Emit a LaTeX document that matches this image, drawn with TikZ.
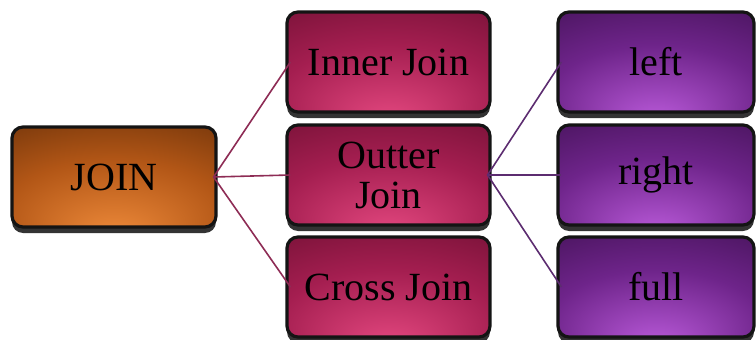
\documentclass[tikz,border=0pt]{standalone}
\usepackage{fontspec}
\setmainfont{Liberation Serif}
\usetikzlibrary{shadows}
\definecolor{orD}{HTML}{4E2204}
\definecolor{orM}{HTML}{B25616}
\definecolor{orL}{HTML}{EE8A3A}
\definecolor{pkD}{HTML}{5C0A28}
\definecolor{pkM}{HTML}{A41E50}
\definecolor{pkL}{HTML}{E44880}
\definecolor{puD}{HTML}{300A40}
\definecolor{puM}{HTML}{6E248A}
\definecolor{puL}{HTML}{BA5ADA}
\definecolor{lnA}{HTML}{8E2C55}
\definecolor{lnB}{HTML}{5C2C70}
\pgfdeclareradialshading[orD,orM,orL]{orshade}{\pgfpoint{0bp}{-30bp}}{color(0bp)=(orL); color(28bp)=(orM); color(62bp)=(orD); color(80bp)=(orD)}
\pgfdeclareradialshading[pkD,pkM,pkL]{pkshade}{\pgfpoint{0bp}{-30bp}}{color(0bp)=(pkL); color(28bp)=(pkM); color(62bp)=(pkD); color(80bp)=(pkD)}
\pgfdeclareradialshading[puD,puM,puL]{pushade}{\pgfpoint{0bp}{-30bp}}{color(0bp)=(puL); color(28bp)=(puM); color(62bp)=(puD); color(80bp)=(puD)}
\tikzset{
  btn/.style={rectangle, rounded corners=11pt, draw=black!92, line width=3.2pt,
    minimum height=100pt, inner sep=0pt, align=center,
    font=\fontsize{40}{40}\selectfont, text=black,
    drop shadow={shadow xshift=0pt, shadow yshift=-6pt, fill=black!80, opacity=1}},
  orbox/.style={btn, shading=orshade, minimum width=204pt},
  pkbox/.style={btn, shading=pkshade, minimum width=203pt},
  pubox/.style={btn, shading=pushade, minimum width=196pt},
  linkA/.style={draw=lnA, line width=1.6pt},
  linkB/.style={draw=lnB, line width=1.6pt}
}
\begin{document}
\begin{tikzpicture}[x=1pt,y=-1pt]
\useasboundingbox (0,0) rectangle (756,340);
\node[orbox] (J) at (114,177) {JOIN};
\node[pkbox] (I) at (388.5,62) {Inner Join};
\node[pkbox] (O) at (388.5,175) {Outter\\Join};
\node[pkbox] (C) at (388.5,287) {Cross Join};
\node[pubox] (L) at (656,62) {left};
\node[pubox] (R) at (656,175) {right};
\node[pubox] (F) at (656,287) {full};
\coordinate (js) at ([xshift=-4pt]J.east);
\coordinate (os) at ([xshift=-4pt]O.east);
\draw[linkA] (js) -- ([xshift=5pt]I.west);
\draw[linkA] (js) -- ([xshift=5pt]O.west);
\draw[linkA] (js) -- ([xshift=5pt]C.west);
\draw[linkB] (os) -- ([xshift=5pt]L.west);
\draw[linkB] (os) -- ([xshift=5pt]R.west);
\draw[linkB] (os) -- ([xshift=5pt]F.west);
\end{tikzpicture}
\end{document}
